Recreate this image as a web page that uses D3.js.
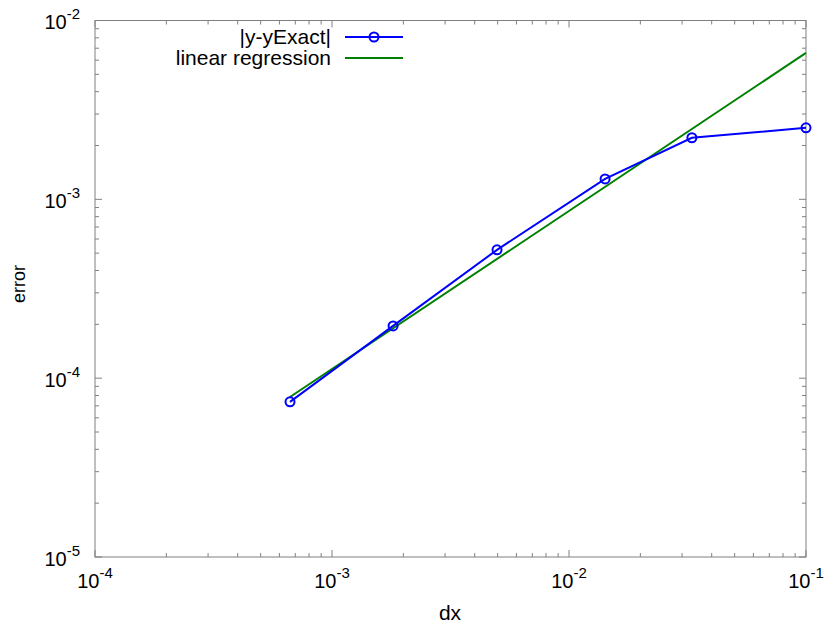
<!DOCTYPE html>
<html><head><meta charset="utf-8">
<script src="https://cdn.jsdelivr.net/npm/d3@7"></script>
<style>
html,body{margin:0;padding:0;background:#fff;}
svg{display:block;font-family:"Liberation Sans",Arial,sans-serif;}
</style></head>
<body>
<svg id="c" width="827" height="629"></svg>
<script>
// data
const dx = [0.000665, 0.00181, 0.00497, 0.0142, 0.0330, 0.1];
const err = [7.37e-5, 1.96e-4, 5.22e-4, 1.30e-3, 2.21e-3, 2.51e-3];
const regX = [0.000665, 0.1];
const regY = [7.85e-5, 6.59e-3];
const xTickExp = [-4, -3, -2, -1];
const yTickExp = [-5, -4, -3, -2];
const seriesNames = ["|y-yExact|", "linear regression"];

const svg = d3.select("#c");
const L = 95, R = 806, T = 20.5, B = 557;
const x = d3.scaleLog().domain([1e-4, 1e-1]).range([L, R]);
const y = d3.scaleLog().domain([1e-5, 1e-2]).range([B, T]);
const axisCol = "#808080";

// minor/major ticks
const xMinor = [], yMinor = [];
for (let e = -4; e < -1; e++) for (let m = 2; m <= 9; m++) xMinor.push(m * Math.pow(10, e));
for (let e = -5; e < -2; e++) for (let m = 2; m <= 9; m++) yMinor.push(m * Math.pow(10, e));
const xMajor = xTickExp.map(e => Math.pow(10, e));
const yMajor = yTickExp.map(e => Math.pow(10, e));

const g = svg.append("g");
function tick(x1, y1, x2, y2) {
  g.append("line").attr("x1", x1).attr("y1", y1).attr("x2", x2).attr("y2", y2)
    .attr("stroke", axisCol).attr("stroke-width", 1);
}
xMinor.forEach(v => { const px = x(v); tick(px, B, px, B - 4); tick(px, T, px, T + 4); });
xMajor.forEach(v => { const px = x(v); tick(px, B, px, B - 7); tick(px, T, px, T + 7); });
yMinor.forEach(v => { const py = y(v); tick(L, py, L + 4, py); tick(R, py, R - 4, py); });
yMajor.forEach(v => { const py = y(v); tick(L, py, L + 7, py); tick(R, py, R - 7, py); });

g.append("rect").attr("x", L).attr("y", T).attr("width", R - L).attr("height", B - T)
  .attr("fill", "none").attr("stroke", axisCol).attr("stroke-width", 1);

// tick labels
xTickExp.forEach(e => {
  const t = svg.append("text").attr("x", x(Math.pow(10, e))).attr("y", 588)
    .attr("text-anchor", "middle").attr("font-size", 20).attr("fill", "#000");
  t.append("tspan").text("10");
  t.append("tspan").attr("dy", -10).attr("font-size", 15).text(String(e));
});
yTickExp.forEach(e => {
  const t = svg.append("text").attr("x", 80).attr("y", y(Math.pow(10, e)) + 8.5)
    .attr("text-anchor", "end").attr("font-size", 20).attr("fill", "#000");
  t.append("tspan").text("10");
  t.append("tspan").attr("dy", -10).attr("font-size", 15).text(String(e));
});

// axis titles
svg.append("text").attr("x", 450).attr("y", 620).attr("text-anchor", "middle")
  .attr("font-size", 21).text("dx");
svg.append("text").attr("transform", "translate(25,284) rotate(-90)").attr("text-anchor", "middle")
  .attr("font-size", 18).text("error");

// regression line
const line = d3.line().x(d => x(d[0])).y(d => y(d[1]));
svg.append("path").datum(d3.zip(regX, regY)).attr("d", line)
  .attr("fill", "none").attr("stroke", "#008000").attr("stroke-width", 2);

// data series
const pts = d3.zip(dx, err);
svg.append("path").datum(pts).attr("d", line)
  .attr("fill", "none").attr("stroke", "#0000ff").attr("stroke-width", 2);
svg.selectAll("circle.pt").data(pts).enter().append("circle").attr("class", "pt")
  .attr("cx", d => x(d[0])).attr("cy", d => y(d[1])).attr("r", 4.5)
  .attr("fill", "none").attr("stroke", "#0000ff").attr("stroke-width", 2);

// legend
const legY = [37, 58];
const legCols = ["#0000ff", "#008000"];
seriesNames.forEach((n, i) => {
  svg.append("text").attr("x", 331).attr("y", legY[i] + 7).attr("text-anchor", "end")
    .attr("font-size", 21).text(n);
  svg.append("line").attr("x1", 345).attr("x2", 403).attr("y1", legY[i]).attr("y2", legY[i])
    .attr("stroke", legCols[i]).attr("stroke-width", 2);
});
svg.append("circle").attr("cx", 374).attr("cy", legY[0]).attr("r", 4.5)
  .attr("fill", "none").attr("stroke", "#0000ff").attr("stroke-width", 2);
</script>
</body></html>
